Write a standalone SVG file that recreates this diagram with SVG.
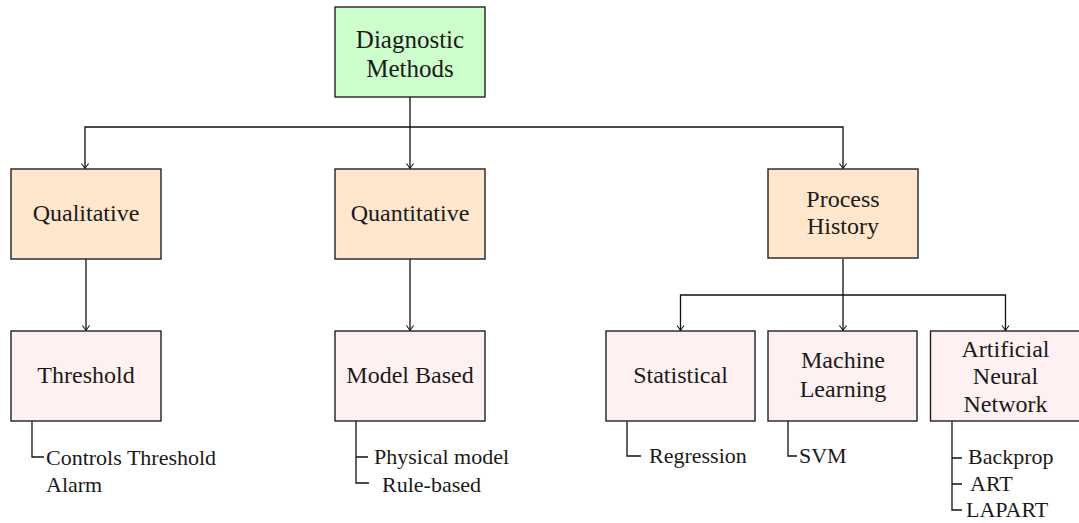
<svg xmlns="http://www.w3.org/2000/svg" width="1079" height="523" viewBox="0 0 1079 523">
  <style>
    .box { stroke: #222; stroke-width: 1.4; }
    .root { fill: #ccffcc; }
    .cat { fill: #ffe6cc; }
    .sub { fill: #fff1f1; }
    .lbl { font-family: "Liberation Serif", "DejaVu Serif", serif; font-size: 24px; fill: #1a1a1a; text-anchor: middle; }
    .big { font-size: 25px; }
    .leaf { font-family: "Liberation Serif", "DejaVu Serif", serif; font-size: 22px; fill: #1a1a1a; }
    .wire { fill: none; stroke: #111; stroke-width: 1.3; }
  </style>
  <defs>
    <marker id="tip" markerUnits="userSpaceOnUse" markerWidth="12" markerHeight="12" refX="0" refY="0" viewBox="-6 -6 12 12" orient="auto" overflow="visible">
      <path d="M-5,-3.6 Q-1.6,-0.9 0,0 Q-1.6,0.9 -5,3.6" fill="none" stroke="#111" stroke-width="1.1"/>
    </marker>
  </defs>

  <rect width="1079" height="523" fill="#ffffff"/>

  <!-- connectors -->
  <g id="connectors">
    <path class="wire" d="M410,97 V127 H85 V168.5" marker-end="url(#tip)"/>
    <path class="wire" d="M410,127 V168.5" marker-end="url(#tip)"/>
    <path class="wire" d="M410,127 H843 V168.5" marker-end="url(#tip)"/>
    <path class="wire" d="M86,259 V330.5" marker-end="url(#tip)"/>
    <path class="wire" d="M410,259 V330.5" marker-end="url(#tip)"/>
    <path class="wire" d="M843,259 V295 H680.5 V330.5" marker-end="url(#tip)"/>
    <path class="wire" d="M843,295 V330.5" marker-end="url(#tip)"/>
    <path class="wire" d="M843,295 H1005.5 V330.5" marker-end="url(#tip)"/>
    <!-- leaf brackets -->
    <path class="wire" d="M32,421 V457 H44"/>
    <path class="wire" d="M356,421 V483 H369 M356,457 H368"/>
    <path class="wire" d="M627,421 V456 H641"/>
    <path class="wire" d="M788,421 V456 H797"/>
    <path class="wire" d="M952,421 V510 H962 M952,458 H962 M952,484 H962"/>
  </g>

  <g id="diagnostic-methods">
    <rect class="box root" x="335" y="7" width="150" height="90"/>
    <text class="lbl big" x="410" y="48">Diagnostic</text>
    <text class="lbl big" x="410" y="77">Methods</text>
  </g>

  <g id="qualitative">
    <rect class="box cat" x="11" y="169" width="150" height="90"/>
    <text class="lbl" x="86" y="221">Qualitative</text>
  </g>
  <g id="quantitative">
    <rect class="box cat" x="335" y="169" width="150" height="90"/>
    <text class="lbl" x="410" y="221">Quantitative</text>
  </g>
  <g id="process-history">
    <rect class="box cat" x="768" y="169" width="150" height="89"/>
    <text class="lbl" x="843" y="207">Process</text>
    <text class="lbl" x="843" y="234">History</text>
  </g>

  <g id="threshold">
    <rect class="box sub" x="11" y="331" width="150" height="90"/>
    <text class="lbl" x="86" y="383">Threshold</text>
    <text class="leaf" x="46" y="465">Controls Threshold</text>
    <text class="leaf" x="46" y="492">Alarm</text>
  </g>
  <g id="model-based">
    <rect class="box sub" x="335" y="331" width="150" height="90"/>
    <text class="lbl" x="410" y="383">Model Based</text>
    <text class="leaf" x="374" y="464">Physical model</text>
    <text class="leaf" x="382" y="492">Rule-based</text>
  </g>
  <g id="statistical">
    <rect class="box sub" x="606" y="331" width="149" height="90"/>
    <text class="lbl" x="680.5" y="383">Statistical</text>
    <text class="leaf" x="649" y="463">Regression</text>
  </g>
  <g id="machine-learning">
    <rect class="box sub" x="768" y="331" width="149" height="90"/>
    <text class="lbl" x="843" y="368">Machine</text>
    <text class="lbl" x="843" y="397">Learning</text>
    <text class="leaf" x="799" y="463">SVM</text>
  </g>
  <g id="artificial-neural-network">
    <rect class="box sub" x="930.5" y="331" width="150" height="90"/>
    <text class="lbl" x="1005.5" y="357">Artificial</text>
    <text class="lbl" x="1005.5" y="384">Neural</text>
    <text class="lbl" x="1005.5" y="412">Network</text>
    <text class="leaf" x="968" y="464">Backprop</text>
    <text class="leaf" x="970" y="491">ART</text>
    <text class="leaf" x="966" y="517">LAPART</text>
  </g>
</svg>
